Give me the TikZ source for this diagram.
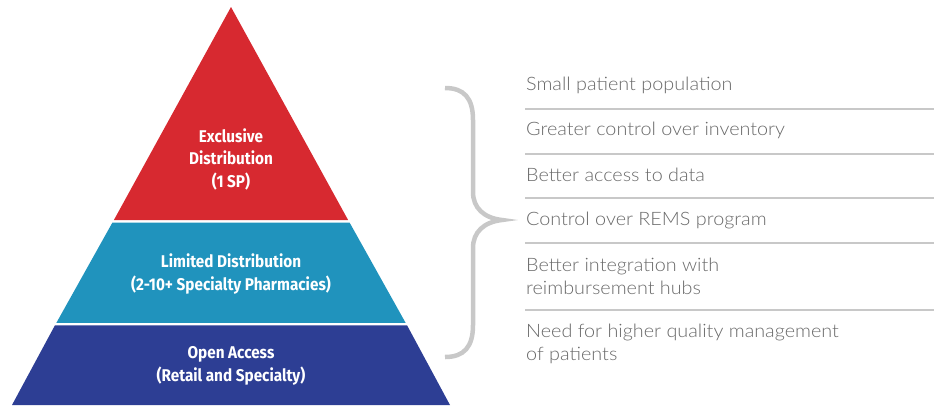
\documentclass[tikz,border=0pt]{standalone}
\usepackage{fontspec}
\setmainfont{Lato}
\newfontfamily\pyrfont[FakeStretch=0.9]{Fira Sans}
\newfontfamily\listfont[FakeStretch=1.07]{Lato Light}
\definecolor{pred}{RGB}{215,41,48}
\definecolor{pteal}{RGB}{32,147,189}
\definecolor{pnavy}{RGB}{45,62,148}
\definecolor{linegray}{RGB}{200,200,200}
\definecolor{textgray}{RGB}{105,105,105}
\begin{document}
\begin{tikzpicture}[x=1pt,y=-1pt,
  tier/.style={text=white,font=\pyrfont\bfseries\fontsize{17}{22.5}\selectfont,align=center},
  item/.style={anchor=west,text=textgray,font=\listfont\fontsize{18.5}{23}\selectfont,align=left,inner sep=0pt},
  rule/.style={draw=linegray,line width=1.5pt}]
\useasboundingbox (0,0) rectangle (937,405);
% pyramid tiers
\fill[pred] (231,7) -- (348.1,220) -- (113.9,220) -- cycle;
\fill[pteal] (349.6,222.6) -- (405.6,322.8) -- (56.4,322.8) -- (112.4,222.6) -- cycle;
\fill[pnavy] (407.1,325.4) -- (450,405) -- (12,405) -- (54.9,325.4) -- cycle;
\node[tier] (t1) at (231,159) {Exclusive\\Distribution\\(1 SP)};
\node[tier] (t2) at (231,274) {Limited Distribution\\(2-10+ Specialty Pharmacies)};
\node[tier] (t3) at (231,366) {Open Access\\(Retail and Specialty)};
% brace
\draw[linegray,line width=4.5pt]
  (445,88) .. controls (464,88) and (473,98) .. (473,120)
  -- (473,192) .. controls (473,208) and (484,218) .. (502,220)
  .. controls (484,222) and (473,232) .. (473,248)
  -- (473,325) .. controls (473,347) and (464,357) .. (445,357);
% list
\node[item] (i1) at (526,85) {Small patient population};
\node[item] (i2) at (526,130) {Greater control over inventory};
\node[item] (i3) at (526,175) {Better access to data};
\node[item] (i4) at (526,220) {Control over REMS program};
\node[item] (i5) at (526,276.5) {Better integration with\\reimbursement hubs};
\node[item] (i6) at (526,344) {Need for higher quality management\\of patients};
\foreach \y in {109,154,198,243,310}
  \draw[rule] (525,\y) -- (934,\y);
\end{tikzpicture}
\end{document}
